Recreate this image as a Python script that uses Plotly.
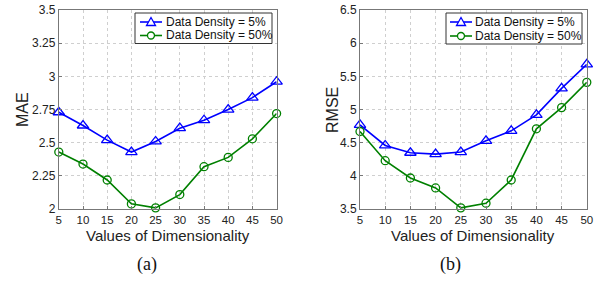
import plotly.graph_objects as go

dims = [5, 10, 15, 20, 25, 30, 35, 40, 45, 50]
mae_5 = [2.73, 2.63, 2.52, 2.43, 2.51, 2.61, 2.67, 2.75, 2.84, 2.96]
mae_50 = [2.43, 2.34, 2.22, 2.04, 2.01, 2.11, 2.32, 2.39, 2.53, 2.72]
rmse_5 = [4.77, 4.46, 4.35, 4.33, 4.36, 4.53, 4.68, 4.92, 5.32, 5.68]
rmse_50 = [4.67, 4.23, 3.97, 3.82, 3.52, 3.59, 3.94, 4.71, 5.03, 5.41]
mae_ticks = [2, 2.25, 2.5, 2.75, 3, 3.25, 3.5]
mae_labels = ["2", "2.25", "2.5", "2.75", "3", "3.25", "3.5"]
rmse_ticks = [3.5, 4, 4.5, 5, 5.5, 6, 6.5]
rmse_labels = ["3.5", "4", "4.5", "5", "5.5", "6", "6.5"]
names = ["Data Density = 5%", "Data Density = 50%"]

BLUE = "#0000ff"
GREEN = "#008000"
SANS = "Liberation Sans, Arial"
SERIF = "Liberation Serif, Times New Roman"
W, H = 600, 285


def px(x):
    return x / W


def py(y):
    return 1 - y / H


fig = go.Figure()


def add(x, y, name, color, sym, size, xa, ya):
    fig.add_trace(go.Scatter(
        x=x, y=y, name=name, mode="lines+markers", showlegend=False,
        line=dict(color=color, width=1.6),
        marker=dict(symbol=sym, size=size, color=color, line=dict(color=color, width=1.3)),
        xaxis=xa, yaxis=ya, cliponaxis=False))


add(dims, mae_5, names[0], BLUE, "triangle-up-open", 10, "x", "y")
add(dims, mae_50, names[1], GREEN, "circle-open", 8, "x", "y")
add(dims, rmse_5, names[0], BLUE, "triangle-up-open", 10, "x2", "y2")
add(dims, rmse_50, names[1], GREEN, "circle-open", 8, "x2", "y2")

axfont = dict(family=SANS, size=12, color="#222")
common_x = dict(range=[5, 50], tickvals=dims, showgrid=True, gridcolor="#cfcfcf",
                griddash="dot", gridwidth=1, showline=True, linecolor="#777", mirror=True,
                ticks="inside", ticklen=3, tickcolor="#777", zeroline=False,
                tickfont=dict(family=SANS, size=11.5, color="#222"), automargin=False)
common_y = dict(showgrid=True, gridcolor="#cfcfcf", griddash="dot", gridwidth=1,
                showline=True, linecolor="#777", mirror=True, ticks="inside", ticklen=3,
                tickcolor="#777", zeroline=False, tickfont=axfont, automargin=False)

shapes = []
annotations = []


def legend(left, right, top, bottom, line_x0, line_x1, text_x, rows):
    shapes.append(dict(type="rect", xref="paper", yref="paper",
                       x0=px(left), x1=px(right), y0=py(bottom), y1=py(top),
                       line=dict(color="#333", width=1), fillcolor="white", layer="above"))
    for (ry, color, kind, label) in rows:
        shapes.append(dict(type="line", xref="paper", yref="paper",
                           x0=px(line_x0), x1=px(line_x1), y0=py(ry), y1=py(ry),
                           line=dict(color=color, width=1.6), layer="above"))
        cx = (line_x0 + line_x1) / 2
        if kind == "tri":
            path = "M {} {} L {} {} L {} {} Z".format(
                px(cx - 4.5), py(ry + 3.5), px(cx + 4.5), py(ry + 3.5), px(cx), py(ry - 4.5))
            shapes.append(dict(type="path", xref="paper", yref="paper", path=path,
                               line=dict(color=color, width=1.3), fillcolor="white", layer="above"))
        else:
            shapes.append(dict(type="circle", xref="paper", yref="paper",
                               x0=px(cx - 3.5), x1=px(cx + 3.5), y0=py(ry + 3.5), y1=py(ry - 3.5),
                               line=dict(color=color, width=1.3), fillcolor="white", layer="above"))
        annotations.append(dict(text=label, x=px(text_x), y=py(ry), xref="paper", yref="paper",
                                xanchor="left", yanchor="middle", showarrow=False,
                                font=dict(family=SANS, size=12, color="#111")))


legend(135, 272, 13, 43.5, 140, 162, 164, [(22, BLUE, "tri", names[0]), (35.5, GREEN, "circ", names[1])])
legend(446, 582, 13, 44, 450, 472, 473, [(22, BLUE, "tri", names[0]), (36, GREEN, "circ", names[1])])

titlefont = dict(family=SANS, size=15, color="#222")
annotations += [
    dict(text="Values of Dimensionality", x=px(167.5), y=py(235), xref="paper", yref="paper",
         xanchor="center", yanchor="middle", showarrow=False, font=titlefont),
    dict(text="Values of Dimensionality", x=px(473), y=py(235), xref="paper", yref="paper",
         xanchor="center", yanchor="middle", showarrow=False, font=titlefont),
    dict(text="MAE", x=px(22), y=py(110), xref="paper", yref="paper", textangle=-90,
         xanchor="center", yanchor="middle", showarrow=False, font=dict(family=SANS, size=16, color="#222")),
    dict(text="RMSE", x=px(332), y=py(110), xref="paper", yref="paper", textangle=-90,
         xanchor="center", yanchor="middle", showarrow=False, font=dict(family=SANS, size=16, color="#222")),
    dict(text="(a)", x=px(147), y=py(264), xref="paper", yref="paper", showarrow=False,
         xanchor="center", yanchor="middle", font=dict(family=SERIF, size=18, color="#111")),
    dict(text="(b)", x=px(450), y=py(264), xref="paper", yref="paper", showarrow=False,
         xanchor="center", yanchor="middle", font=dict(family=SERIF, size=18, color="#111")),
]

fig.update_layout(
    width=W, height=H, margin=dict(l=0, r=0, t=0, b=0, autoexpand=False),
    paper_bgcolor="white", plot_bgcolor="white", showlegend=False,
    xaxis=dict(domain=[0.098, 0.461], anchor="y", **common_x),
    yaxis=dict(domain=[0.266, 0.965], anchor="x", range=[2, 3.5], tickvals=mae_ticks, ticktext=mae_labels, **common_y),
    xaxis2=dict(domain=[0.6, 0.978], anchor="y2", **common_x),
    yaxis2=dict(domain=[0.266, 0.965], anchor="x2", range=[3.5, 6.5], tickvals=rmse_ticks, ticktext=rmse_labels, **common_y),
    shapes=shapes,
    annotations=annotations,
)

fig.write_html("out.html", config={"displayModeBar": False},
               post_script="document.body.style.margin='0';document.body.style.overflow='hidden';")
